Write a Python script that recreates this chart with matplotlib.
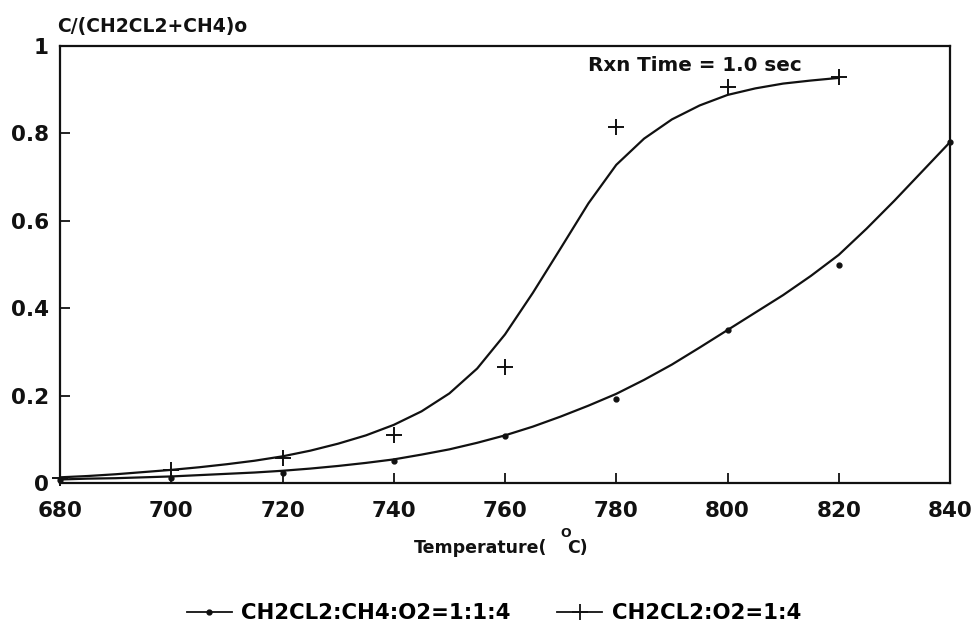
import matplotlib
matplotlib.use("Agg")
import matplotlib.pyplot as plt
from matplotlib.lines import Line2D

plt.rcParams['font.family'] = ['DejaVu Sans']
plt.rcParams['font.weight'] = 'bold'

# Measured conversions, C/(CH2CL2+CH4)o
temp_dot = [680, 700, 720, 740, 760, 780, 800, 820, 840]
conv_dot = [0.006, 0.012, 0.023, 0.050, 0.107, 0.192, 0.350, 0.500, 0.780]

temp_plus = [680, 700, 720, 740, 760, 780, 800, 820]
conv_plus = [0.012, 0.030, 0.057, 0.110, 0.266, 0.815, 0.906, 0.929]

# Fitted curves, read every 5 degC
fit_temp_dot = [680, 685, 690, 695, 700, 705, 710, 715, 720, 725, 730, 735,
                740, 745, 750, 755, 760, 765, 770, 775, 780, 785, 790, 795,
                800, 805, 810, 815, 820, 825, 830, 835, 840]
fit_conv_dot = [0.008, 0.010, 0.011, 0.013, 0.015, 0.018, 0.021, 0.024,
                0.028, 0.033, 0.039, 0.046, 0.054, 0.065, 0.077, 0.092,
                0.109, 0.129, 0.152, 0.177, 0.204, 0.236, 0.271, 0.310,
                0.350, 0.390, 0.430, 0.474, 0.522, 0.582, 0.646, 0.713, 0.780]

fit_temp_plus = [680, 685, 690, 695, 700, 705, 710, 715, 720, 725, 730, 735,
                 740, 745, 750, 755, 760, 765, 770, 775, 780, 785, 790, 795,
                 800, 805, 810, 815, 820]
fit_conv_plus = [0.013, 0.016, 0.020, 0.025, 0.030, 0.036, 0.043, 0.051,
                 0.061, 0.074, 0.090, 0.109, 0.133, 0.164, 0.205, 0.262,
                 0.340, 0.435, 0.537, 0.640, 0.728, 0.788, 0.832, 0.864,
                 0.888, 0.903, 0.914, 0.921, 0.927]

x_ticks = [680, 700, 720, 740, 760, 780, 800, 820, 840]
y_ticks = [0, 0.2, 0.4, 0.6, 0.8, 1.0]
y_tick_labels = ["0", "0.2", "0.4", "0.6", "0.8", "1"]

label_dot = "CH2CL2:CH4:O2=1:1:4"
label_plus = "CH2CL2:O2=1:4"

W, H = 979, 627
fig = plt.figure(figsize=(W / 100, H / 100), dpi=100)
ax = fig.add_axes([60 / W, (H - 483) / H, 890 / W, 437 / H])

ink = "#111111"
ax.plot(fit_temp_dot, fit_conv_dot, color=ink, lw=1.6,
        solid_capstyle='round', solid_joinstyle='round')
ax.plot(fit_temp_plus, fit_conv_plus, color=ink, lw=1.6,
        solid_capstyle='round', solid_joinstyle='round')
ax.plot(temp_dot, conv_dot, ls='none', marker='o', ms=3.5, color=ink, clip_on=False)
ax.plot(temp_plus, conv_plus, ls='none', marker='+', ms=11, mew=1.4, color=ink, clip_on=False)

ax.set_xlim(680, 840)
ax.set_ylim(0, 1)
ax.set_xticks(x_ticks)
ax.set_xticklabels([str(t) for t in x_ticks])
ax.set_yticks(y_ticks)
ax.set_yticklabels(y_tick_labels)
ax.tick_params(direction='in', length=7, width=1.3, colors=ink, labelsize=15.5)
ax.tick_params(axis='x', pad=13)
ax.tick_params(axis='y', pad=8)
for lab in ax.get_xticklabels() + ax.get_yticklabels():
    lab.set_fontweight('bold')
for sp in ax.spines.values():
    sp.set_linewidth(1.6)
    sp.set_color(ink)

# axis titles
fig.text(57 / W, 1 - 32 / H, "C/(CH2CL2+CH4)o", fontsize=13.5, fontweight='bold',
         ha='left', va='baseline', color=ink)
fig.text(588 / W, 1 - 71 / H, "Rxn Time = 1.0 sec", fontsize=14.3, fontweight='bold',
         ha='left', va='baseline', color=ink)
fig.text(547 / W, 1 - 553 / H, "Temperature(", fontsize=12.5, fontweight='bold',
         ha='right', va='baseline', color=ink)
fig.text(567 / W, 1 - 553 / H, "C)", fontsize=12.5, fontweight='bold',
         ha='left', va='baseline', color=ink)
fig.text(566 / W, 1 - 540 / H, "O", fontsize=9, fontweight='bold',
         ha='center', va='bottom', color=ink)

handles = [
    Line2D([], [], color=ink, lw=1.3, marker='o', ms=3.5),
    Line2D([], [], color=ink, lw=1.3, marker='+', ms=11, mew=1.3),
]
fig.legend(handles, [label_dot, label_plus], loc='center',
           bbox_to_anchor=(494 / W, 1 - 613 / H), ncol=2, frameon=False,
           numpoints=1, handlelength=2.1, handletextpad=0.45,
           columnspacing=2.2, prop={'size': 15.3, 'weight': 'bold'})

fig.savefig("out.png", dpi=100, facecolor='white')
